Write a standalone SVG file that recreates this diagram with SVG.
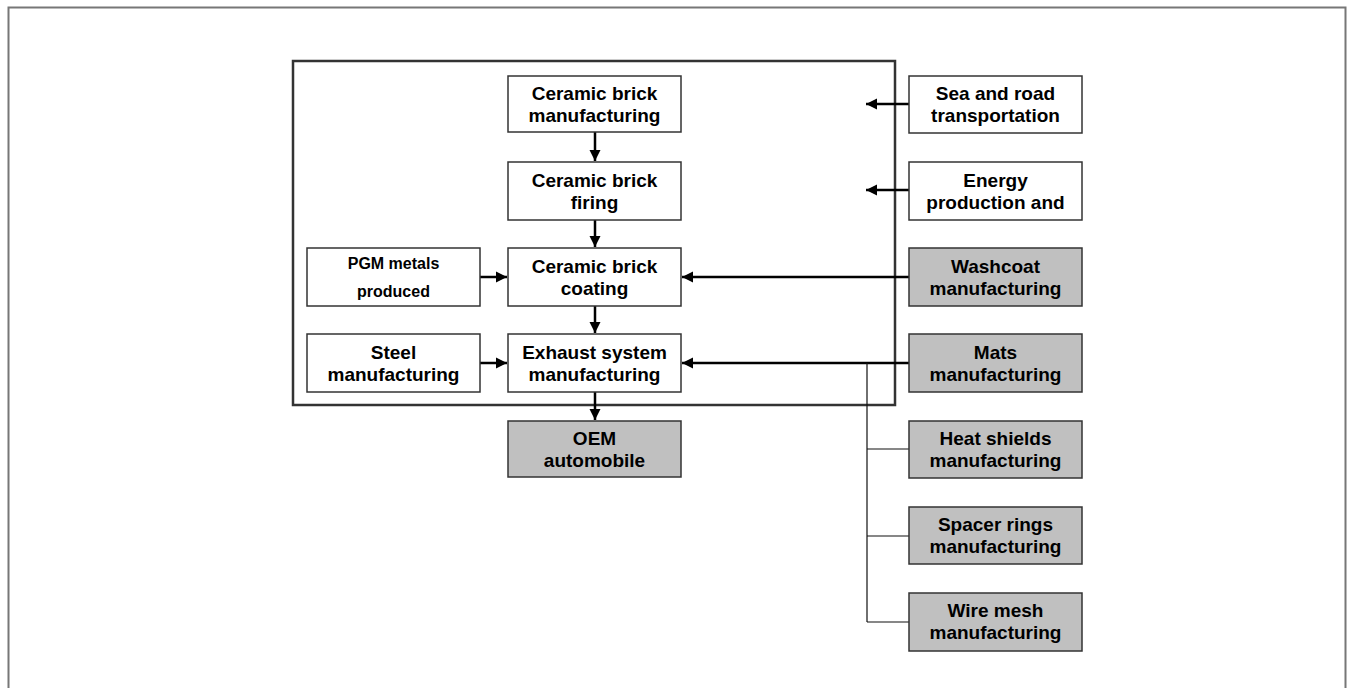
<svg xmlns="http://www.w3.org/2000/svg" width="1347" height="688" viewBox="0 0 1347 688">
<style>
.box{fill:#fff;stroke:#333;stroke-width:1.5}
.g{fill:#c0c0c0}
.t{font-family:"Liberation Sans",Arial,sans-serif;font-weight:bold;font-size:19px;fill:#000;text-anchor:middle}
.s{font-size:16px}
.a{stroke:#000;stroke-width:2.5;fill:none}
.th{stroke:#111;stroke-width:1.2;fill:none}
</style>
<defs>
<marker id="ah" markerWidth="12" markerHeight="12" refX="11" refY="6" orient="auto" markerUnits="userSpaceOnUse">
<path d="M0,0.5 L11,6 L0,11.5 Z" fill="#000"/>
</marker>
</defs>
<path d="M8.5,688 V7.5 H1345.5 V688" fill="none" stroke="#777" stroke-width="2"/>
<rect id="boundary" x="293" y="61" width="602" height="344" fill="none" stroke="#333" stroke-width="2.5"/>
<g id="connectors">
<line class="a" x1="595" y1="132" x2="595" y2="161" marker-end="url(#ah)"/>
<line class="a" x1="595" y1="220" x2="595" y2="247" marker-end="url(#ah)"/>
<line class="a" x1="595" y1="306" x2="595" y2="333" marker-end="url(#ah)"/>
<line class="a" x1="595" y1="392" x2="595" y2="420" marker-end="url(#ah)"/>
<line class="a" x1="480" y1="277" x2="507" y2="277" marker-end="url(#ah)"/>
<line class="a" x1="480" y1="363" x2="507" y2="363" marker-end="url(#ah)"/>
<line class="a" x1="909" y1="104" x2="866" y2="104" marker-end="url(#ah)"/>
<line class="a" x1="909" y1="190" x2="866" y2="190" marker-end="url(#ah)"/>
<line class="a" x1="909" y1="277" x2="682" y2="277" marker-end="url(#ah)"/>
<line class="a" x1="909" y1="363" x2="682" y2="363" marker-end="url(#ah)"/>
<path class="th" d="M867,363 V622 M867,449 H909 M867,536 H909 M867,622 H909"/>
</g>
<g id="n-ceramic-mfg"><rect class="box" x="508" y="76" width="173" height="56"/><text class="t" x="594.5" y="100">Ceramic brick</text><text class="t" x="594.5" y="122">manufacturing</text></g>
<g id="n-firing"><rect class="box" x="508" y="162" width="173" height="58"/><text class="t" x="594.5" y="187">Ceramic brick</text><text class="t" x="594.5" y="209">firing</text></g>
<g id="n-coating"><rect class="box" x="508" y="248" width="173" height="58"/><text class="t" x="594.5" y="273">Ceramic brick</text><text class="t" x="594.5" y="295">coating</text></g>
<g id="n-exhaust"><rect class="box" x="508" y="334" width="173" height="58"/><text class="t" x="594.5" y="359">Exhaust system</text><text class="t" x="594.5" y="381">manufacturing</text></g>
<g id="n-oem"><rect class="box g" x="508" y="421" width="173" height="56"/><text class="t" x="594.5" y="445">OEM</text><text class="t" x="594.5" y="467">automobile</text></g>
<g id="n-pgm"><rect class="box" x="307" y="248" width="173" height="58"/><text class="t s" x="393.5" y="269">PGM metals</text><text class="t s" x="393.5" y="297">produced</text></g>
<g id="n-steel"><rect class="box" x="307" y="334" width="173" height="58"/><text class="t" x="393.5" y="359">Steel</text><text class="t" x="393.5" y="381">manufacturing</text></g>
<g id="n-sea"><rect class="box" x="909" y="76" width="173" height="57"/><text class="t" x="995.5" y="100">Sea and road</text><text class="t" x="995.5" y="122">transportation</text></g>
<g id="n-energy"><rect class="box" x="909" y="162" width="173" height="58"/><text class="t" x="995.5" y="187">Energy</text><text class="t" x="995.5" y="209">production and</text></g>
<g id="n-washcoat"><rect class="box g" x="909" y="248" width="173" height="58"/><text class="t" x="995.5" y="273">Washcoat</text><text class="t" x="995.5" y="295">manufacturing</text></g>
<g id="n-mats"><rect class="box g" x="909" y="334" width="173" height="58"/><text class="t" x="995.5" y="359">Mats</text><text class="t" x="995.5" y="381">manufacturing</text></g>
<g id="n-heat"><rect class="box g" x="909" y="421" width="173" height="57"/><text class="t" x="995.5" y="445">Heat shields</text><text class="t" x="995.5" y="467">manufacturing</text></g>
<g id="n-spacer"><rect class="box g" x="909" y="507" width="173" height="57"/><text class="t" x="995.5" y="531">Spacer rings</text><text class="t" x="995.5" y="553">manufacturing</text></g>
<g id="n-wire"><rect class="box g" x="909" y="593" width="173" height="58"/><text class="t" x="995.5" y="617">Wire mesh</text><text class="t" x="995.5" y="639">manufacturing</text></g>
</svg>
